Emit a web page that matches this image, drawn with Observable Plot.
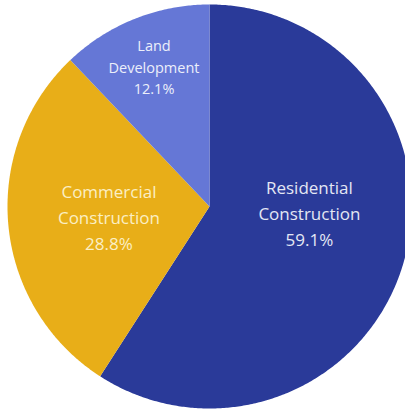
<!DOCTYPE html>
<html>
<head>
<meta charset="utf-8">
<script src="https://cdn.jsdelivr.net/npm/d3@7"></script>
<script src="https://cdn.jsdelivr.net/npm/@observablehq/plot@0.6"></script>
<style>
  html, body { margin: 0; padding: 0; background: #ffffff; }
  #chart svg { display: block; }
</style>
</head>
<body>
<div id="chart"></div>
<script>
// ---- data ----
const categories = ["Residential Construction", "Commercial Construction", "Land Development"];
const shares = [59.1, 28.8, 12.1];
const labelWords = [["Residential", "Construction"], ["Commercial", "Construction"], ["Land", "Development"]];

// ---- layout / style (not data) ----
const W = 405, H = 410;
const cx = 209, cy = 206, R = 202;
const colors = ["#2a3a99", "#e8ae18", "#6577d6"];

const data = categories.map((c, i) => ({cat: c, share: shares[i], words: labelWords[i]}));
const arcs = d3.pie().sort(null).value(d => d.share)(data);

// polygon points for each slice (unit circle coordinates, y up, angle clockwise from top)
const pts = [];
for (const a of arcs) {
  pts.push({cat: a.data.cat, x: 0, y: 0});
  const n = Math.max(2, Math.ceil((a.endAngle - a.startAngle) / (Math.PI / 360)));
  for (let k = 0; k <= n; k++) {
    const t = a.startAngle + (a.endAngle - a.startAngle) * k / n;
    pts.push({cat: a.data.cat, x: Math.sin(t), y: Math.cos(t)});
  }
  pts.push({cat: a.data.cat, x: 0, y: 0});
}

const labelRadius = {"Residential Construction": 0.5, "Commercial Construction": 0.5, "Land Development": 0.74};
const labels = arcs.map(a => {
  const m = (a.startAngle + a.endAngle) / 2;
  const k = labelRadius[a.data.cat];
  return {
    cat: a.data.cat,
    x: k * Math.sin(m),
    y: k * Math.cos(m),
    text: a.data.words.join("\n") + "\n" + a.data.share.toFixed(1) + "%"
  };
});

const font = "'Segoe UI', 'Open Sans', sans-serif";
const chart = Plot.plot({
  width: W,
  height: H,
  margin: 0,
  x: {type: "linear", domain: [-1, 1], range: [cx - R, cx + R], axis: null},
  y: {type: "linear", domain: [-1, 1], range: [cy + R, cy - R], axis: null},
  color: {domain: categories, range: colors},
  style: {fontFamily: font, background: "#ffffff"},
  marks: [
    Plot.line(pts, {x: "x", y: "y", z: "cat", fill: "cat", stroke: null, curve: "linear"}),
    Plot.text(labels.filter(d => d.cat === "Residential Construction"), {
      x: "x", y: "y", text: "text", fill: "#e4e7f4", fontSize: 17, lineHeight: 1.53, dx: 3, dy: -23
    }),
    Plot.text(labels.filter(d => d.cat === "Commercial Construction"), {
      x: "x", y: "y", text: "text", fill: "#fbefc4", fontSize: 17, lineHeight: 1.53
    }),
    Plot.text(labels.filter(d => d.cat === "Land Development"), {
      x: "x", y: "y", text: "text", fill: "#eceffa", fontSize: 14.5, lineHeight: 1.5, dy: -2
    })
  ]
});
document.getElementById("chart").appendChild(chart);
</script>
</body>
</html>
